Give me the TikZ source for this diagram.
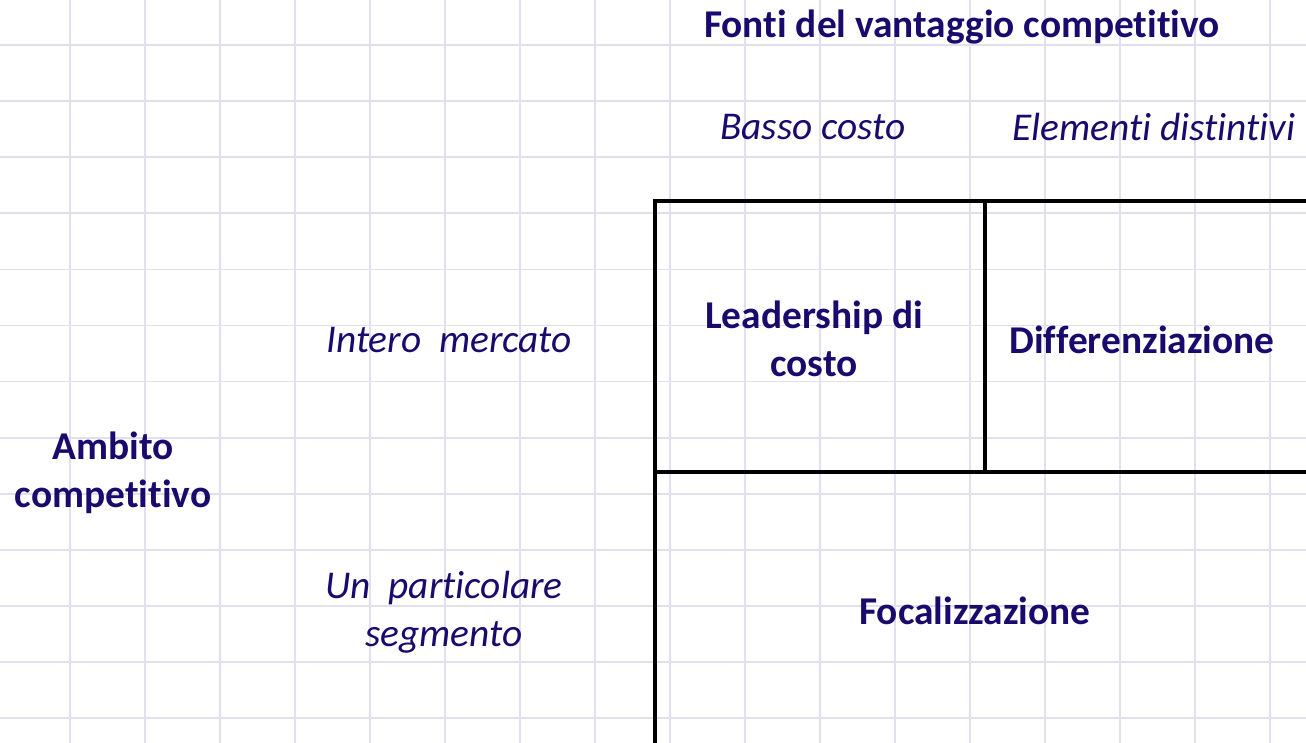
\documentclass[tikz,border=0pt]{standalone}
\usepackage{fontspec}
\setmainfont[Ligatures={NoCommon}]{Carlito}
\usepackage{tikz}
\usetikzlibrary{positioning}

\definecolor{inkblue}{RGB}{26,10,110}
\definecolor{gridline}{RGB}{226,224,238}

\tikzset{
  boldlabel/.style={text=inkblue, font=\fontsize{11.2}{13.7}\selectfont\bfseries, align=center, inner sep=0pt},
  itlabel/.style={text=inkblue, font=\fontsize{11.2}{13.7}\selectfont\itshape, align=center, inner sep=0pt},
  frame/.style={line width=1.3pt, black}
}

\begin{document}
\begin{tikzpicture}
\useasboundingbox (0,0) rectangle (13.06,-7.43);
\clip (0,0) rectangle (13.06,-7.43);

% Grid paper
\foreach \x in {0,...,16}
  \draw[gridline, line width=0.5pt] ({0.70+0.75*\x},0) -- ({0.70+0.75*\x},-7.43);
\foreach \y in {0,...,12}
  \draw[gridline, line width=0.5pt] (0,{-0.45-0.561*\y}) -- (13.06,{-0.45-0.561*\y});

% Matrix frame (runs off the right and bottom edges)
\draw[frame] (13.3,-2.01) -- (6.55,-2.01) -- (6.55,-7.6);
\draw[frame] (6.55,-4.72) -- (13.3,-4.72);
\draw[frame] (9.85,-2.01) -- (9.85,-4.72);

% Column headings
\node[boldlabel] (fonti) at (9.62,-0.27) {Fonti del vantaggio competitivo};
\node[itlabel] (basso) at (8.13,-1.27) {Basso costo};
\node[itlabel] (elementi) at (11.54,-1.27) {Elementi distintivi};

% Row headings
\node[boldlabel] (ambito) at (1.13,-4.73) {Ambito\\competitivo};
\node[itlabel] (intero) at (4.49,-3.40) {Intero\ \ mercato};
\node[itlabel] (segmento) at (4.44,-6.12) {Un\ \ particolare\\segmento};

% Strategies
\node[boldlabel] (leader) at (8.14,-3.39) {Leadership di\\costo};
\node[boldlabel] (diff) at (11.42,-3.40) {Differenziazione};
\node[boldlabel] (focus) at (9.75,-6.11) {Focalizzazione};

\end{tikzpicture}
\end{document}
